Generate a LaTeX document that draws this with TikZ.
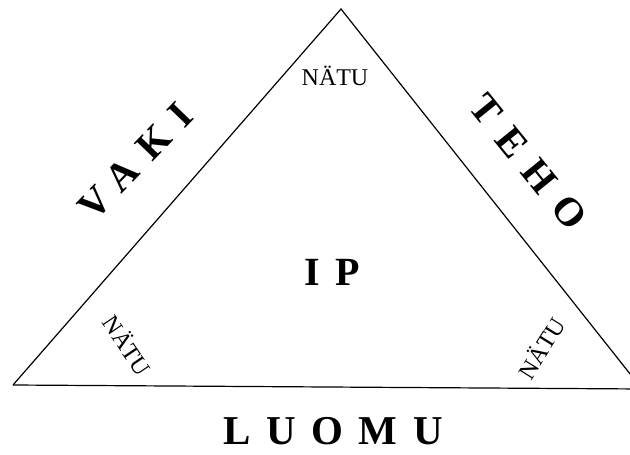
\documentclass[tikz,border=0pt]{standalone}
\usepackage{fontspec}
\setmainfont{Liberation Serif}
\newfontfamily\spacedfont[LetterSpace=38]{Liberation Serif}
\usepackage{tikz}
\usetikzlibrary{calc}

\tikzset{
  sidelabel/.style={font=\spacedfont\bfseries\fontsize{40}{40}\selectfont,inner sep=0pt},
  natulabel/.style={font=\fontsize{24}{24}\selectfont,inner sep=0pt},
}

\begin{document}
\begin{tikzpicture}[x=1pt,y=-1pt]
  \useasboundingbox (0,0) rectangle (630,455);
  \clip (0,0) rectangle (630,455);
  % triangle
  \coordinate (apex) at (341,9);
  \coordinate (left) at (13,385);
  \coordinate (right) at (642,389);
  \draw[line width=1.2pt] (left) -- (apex) -- (right);
  \draw[line width=1.2pt] (left) -- (right);
  % labels
  \node[sidelabel,rotate=46] (vaki) at (136,161) {VAKI};
  \node[sidelabel,rotate=-51] (teho) at (528,162) {TEHO};
  \node[sidelabel] (ip) at (332,272) {IP};
  \node[sidelabel,font=\spacedfont\bfseries\fontsize{41}{41}\selectfont] (luomu) at (333,431) {LUOMU};
  \node[natulabel] (natutop) at (335,76) {NÄTU};
  \node[natulabel,rotate=-56] (natuleft) at (128,345) {NÄTU};
  \node[natulabel,rotate=58] (naturight) at (541,348) {NÄTU};
\end{tikzpicture}
\end{document}
